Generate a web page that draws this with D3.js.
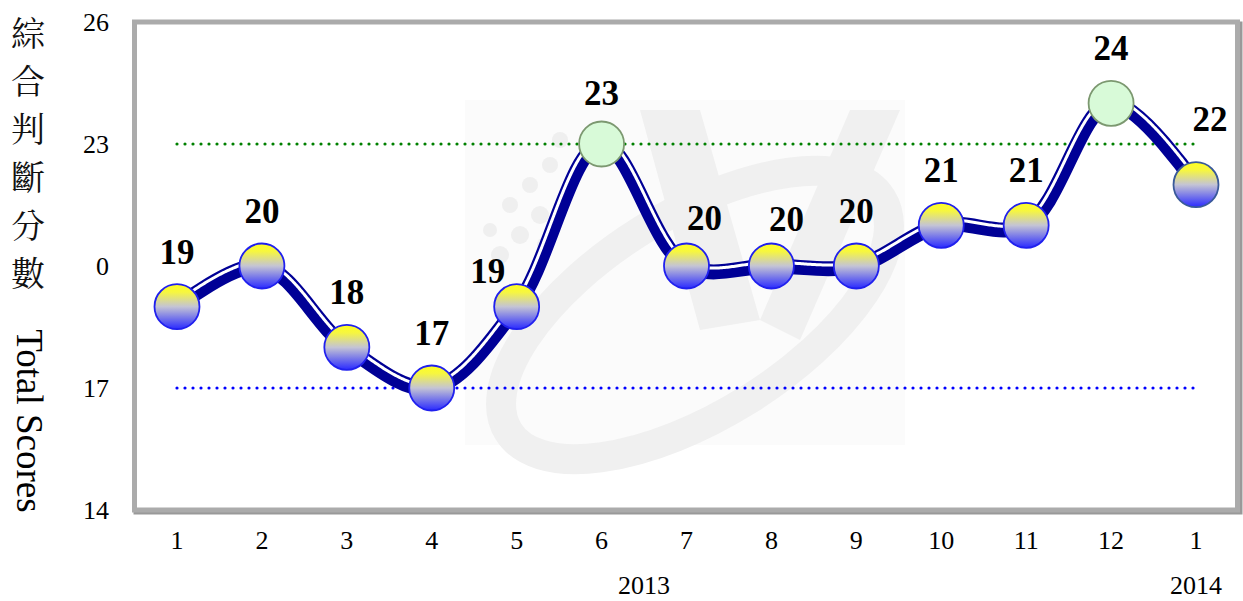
<!DOCTYPE html>
<html>
<head>
<meta charset="utf-8">
<script src="https://cdn.jsdelivr.net/npm/d3@7"></script>
<style>
body{margin:0;background:#fff;}
</style>
</head>
<body>
<script>
//chart values
var months = ["1","2","3","4","5","6","7","8","9","10","11","12","1"];
var scores = [19,20,18,17,19,23,20,20,20,21,21,24,22];
var yTicks = [14,17,20,23,26];
var yTickText = ["14","17","0","23","26"];
var years = ["2013","2014"];
var yearAt = [5.5,12];
var upperLine = 23,
    lowerLine = 17;
//small nudges for the value labels (px)
var labelDx = [0,0,0,0,-29,0,18,15,0,0,0,0,14];
var labelDy = [0,0,0,0,19,4,7,8,0,0,0,0,-11];

window.onload = drawChart();

function drawChart(){

    var width = 1243,
        height = 601;

    var svg = d3.select("body")
        .append("svg")
        .attr("width", width)
        .attr("height", height);

    var x = d3.scaleLinear().domain([0, 12]).range([177, 1196]);
    var y = d3.scaleLinear().domain([14, 26]).range([510, 22]);

    //gradient for the normal markers
    var defs = svg.append("defs");
    var grad = defs.append("linearGradient")
        .attr("id", "ball")
        .attr("x1", 0).attr("y1", 0).attr("x2", 0).attr("y2", 1);
    grad.append("stop").attr("offset", "0%").attr("stop-color", "#ffff20");
    grad.append("stop").attr("offset", "18%").attr("stop-color", "#f6f640");
    grad.append("stop").attr("offset", "50%").attr("stop-color", "#c4c4d4");
    grad.append("stop").attr("offset", "100%").attr("stop-color", "#2a2aff");

    //plot frame with shadow
    svg.append("rect")
        .attr("x", 136).attr("y", 24)
        .attr("width", 1104).attr("height", 488)
        .attr("fill", "none")
        .attr("stroke", "#999")
        .attr("stroke-width", 5);
    svg.append("rect")
        .attr("x", 134.5).attr("y", 22)
        .attr("width", 1103).attr("height", 488)
        .attr("fill", "#fff")
        .attr("stroke", "#ababab")
        .attr("stroke-width", 5);

    //faint watermark behind the data
    var wm = svg.append("g");
    wm.append("rect")
        .attr("x", 465).attr("y", 100)
        .attr("width", 440).attr("height", 345)
        .attr("fill", "#fbfbfb");
    wm.append("ellipse")
        .attr("cx", 0).attr("cy", 0)
        .attr("rx", 220).attr("ry", 100)
        .attr("transform", "translate(695,315) rotate(-32)")
        .attr("fill", "none")
        .attr("stroke", "#f0f0f0")
        .attr("stroke-width", 30);
    wm.append("path")
        .attr("d", "M640,110 L700,110 L760,320 L700,330 Z M760,320 L850,110 L900,110 L800,340 Z")
        .attr("fill", "#f0f0f0");
    var dots = [[500,255,9],[520,235,9],[540,215,9],[510,205,8],[530,185,8],[550,165,8],[560,140,8],[490,230,7],[545,245,8]];
    wm.selectAll(".dot")
        .data(dots)
        .enter()
        .append("circle")
        .attr("cx", function(d){ return d[0]; })
        .attr("cy", function(d){ return d[1]; })
        .attr("r", function(d){ return d[2]; })
        .attr("fill", "#efefef");

    //dotted reference lines
    svg.append("line")
        .attr("x1", x(0)).attr("x2", x(12))
        .attr("y1", y(upperLine)).attr("y2", y(upperLine))
        .attr("stroke", "#008000")
        .attr("stroke-width", 3.2)
        .attr("stroke-linecap", "round")
        .attr("stroke-dasharray", "0 8");
    svg.append("line")
        .attr("x1", x(0)).attr("x2", x(12))
        .attr("y1", y(lowerLine)).attr("y2", y(lowerLine))
        .attr("stroke", "#0000ff")
        .attr("stroke-width", 3.2)
        .attr("stroke-linecap", "round")
        .attr("stroke-dasharray", "0 8");

    //smoothed score line
    var line = d3.line()
        .x(function(d, i){ return x(i); })
        .y(function(d){ return y(d); })
        .curve(d3.curveCatmullRom.alpha(0.5));

    var main = svg.append("path")
        .datum(scores)
        .attr("d", line)
        .attr("fill", "none")
        .attr("stroke", "#000096")
        .attr("stroke-width", 15)
        .attr("stroke-linejoin", "round");

    //thin white line on the left side of travel (thick-thin compound look)
    var node = main.node(),
        total = node.getTotalLength(),
        off = [];
    for (var s = 0; s <= total; s += 1.5){
        var a = node.getPointAtLength(Math.max(0, s - 1)),
            b = node.getPointAtLength(Math.min(total, s + 1)),
            p = node.getPointAtLength(s),
            dx = b.x - a.x, dy = b.y - a.y,
            len = Math.sqrt(dx*dx + dy*dy) || 1;
        off.push([p.x + 3.8*dy/len, p.y - 3.8*dx/len]);
    }
    svg.append("path")
        .attr("d", d3.line()(off))
        .attr("fill", "none")
        .attr("stroke", "#fff")
        .attr("stroke-width", 3);

    //markers
    svg.selectAll(".marker")
        .data(scores)
        .enter()
        .append("circle")
        .attr("class", "marker")
        .attr("cx", function(d, i){ return x(i); })
        .attr("cy", function(d){ return y(d); })
        .attr("r", 22.5)
        .attr("fill", function(d){ return d >= upperLine ? "#d8fad8" : "url(#ball)"; })
        .attr("stroke", function(d, i){ return d >= upperLine ? "#7c9870" : (i == 12 ? "#3a5a9a" : "#2020ee"); })
        .attr("stroke-width", 1.8);

    //value labels
    svg.selectAll(".val")
        .data(scores)
        .enter()
        .append("text")
        .attr("x", function(d, i){ return x(i) + labelDx[i]; })
        .attr("y", function(d, i){ return y(d) - 43 + labelDy[i]; })
        .attr("text-anchor", "middle")
        .attr("font-family", "'Liberation Serif', 'Times New Roman', serif")
        .attr("font-weight", "bold")
        .attr("font-size", 35)
        .attr("fill", "#000")
        .text(function(d){ return d; });

    //y tick labels
    svg.selectAll(".ytick")
        .data(yTicks)
        .enter()
        .append("text")
        .attr("x", 109)
        .attr("y", function(d){ return y(d); })
        .attr("dy", "0.35em")
        .attr("text-anchor", "end")
        .attr("font-family", "'Liberation Serif', 'Times New Roman', serif")
        .attr("font-size", 26)
        .attr("fill", "#000")
        .text(function(d, i){ return yTickText[i]; });

    //x tick labels
    svg.selectAll(".xtick")
        .data(months)
        .enter()
        .append("text")
        .attr("x", function(d, i){ return x(i); })
        .attr("y", 549)
        .attr("text-anchor", "middle")
        .attr("font-family", "'Liberation Serif', 'Times New Roman', serif")
        .attr("font-size", 26)
        .attr("fill", "#000")
        .text(function(d){ return d; });

    svg.selectAll(".year")
        .data(years)
        .enter()
        .append("text")
        .attr("x", function(d, i){ return x(yearAt[i]); })
        .attr("y", 594)
        .attr("text-anchor", "middle")
        .attr("font-family", "'Liberation Serif', 'Times New Roman', serif")
        .attr("font-size", 26)
        .attr("fill", "#000")
        .text(function(d){ return d; });

    //axis title: stacked chinese then rotated english
    var cjk = "綜合判斷分數".split("");
    svg.selectAll(".cjk")
        .data(cjk)
        .enter()
        .append("text")
        .attr("x", 28)
        .attr("y", function(d, i){ return 33 + i*48; })
        .attr("dy", "0.38em")
        .attr("text-anchor", "middle")
        .attr("font-family", "'Noto Serif CJK TC', 'Noto Sans CJK TC', serif")
        .attr("font-size", 34)
        .attr("fill", "#111")
        .text(function(d){ return d; });

    svg.append("text")
        .attr("transform", "translate(30,421) rotate(90)")
        .attr("text-anchor", "middle")
        .attr("dy", "0.35em")
        .attr("font-family", "'Liberation Serif', 'Times New Roman', serif")
        .attr("font-size", 37)
        .attr("fill", "#000")
        .text("Total Scores");
};
</script>
</body>
</html>
